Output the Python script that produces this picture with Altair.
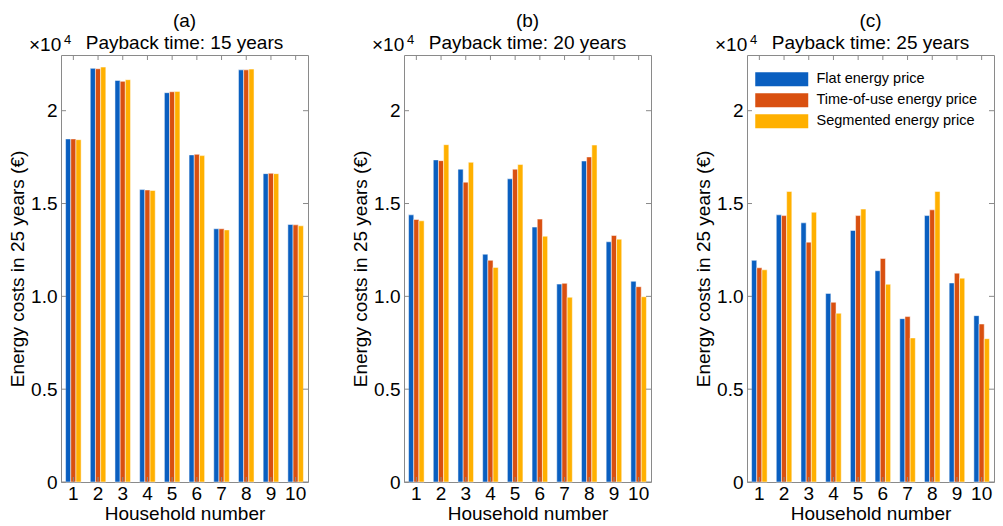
import altair as alt
import pandas as pd

households = list(range(1, 11))
series = ["Flat energy price", "Time-of-use energy price", "Segmented energy price"]
colors = ["#0a5fc0", "#d95010", "#ffb000"]

# Energy costs in 25 years (EUR)
a_flat = [18480, 22280, 21630, 15750, 20970, 17620, 13640, 22200, 16610, 13870]
a_tou = [18480, 22260, 21580, 15730, 21020, 17650, 13640, 22200, 16630, 13850]
a_seg = [18440, 22350, 21670, 15700, 21040, 17580, 13580, 22240, 16610, 13800]

b_flat = [14390, 17350, 16850, 12270, 16330, 13730, 10660, 17290, 12940, 10810]
b_tou = [14140, 17310, 16150, 11940, 16850, 14160, 10700, 17510, 13280, 10520]
b_seg = [14070, 18170, 17220, 11560, 17100, 13240, 9950, 18150, 13080, 9980]

c_flat = [11940, 14390, 13960, 10160, 13550, 11380, 8800, 14350, 10720, 8960]
c_tou = [11540, 14350, 12920, 9680, 14350, 12040, 8910, 14660, 11250, 8510]
c_seg = [11430, 15650, 14530, 9090, 14700, 10650, 7760, 15650, 10980, 7720]

ytick_vals = [0, 5000, 10000, 15000, 20000]
panels_info = [
    ("a", 15, [a_flat, a_tou, a_seg]),
    ("b", 20, [b_flat, b_tou, b_seg]),
    ("c", 25, [c_flat, c_tou, c_seg]),
]

W, H = 247, 427
FONT = "Liberation Sans"
FS = 19
FRAME = "#8a8a8a"


def make_df(vals):
    rows = []
    for s, v in zip(series, vals):
        for h, c in zip(households, v):
            rows.append({"House": h, "Series": s, "Cost": c})
    return pd.DataFrame(rows)


hdf = pd.DataFrame({"House": households})
ydf = pd.DataFrame({"Cost": ytick_vals})
one = pd.DataFrame({"k": [0]})


def panel(letter, years, vals, show_legend):
    df = make_df(vals)
    xenc = alt.X(
        "House:O",
        scale=alt.Scale(paddingInner=0.37, paddingOuter=0.185),
        axis=alt.Axis(
            title="Household number", labelAngle=0, ticks=False, domain=False,
            labelFontSize=FS, titleFontSize=FS, labelPadding=2, titlePadding=1,
            labelColor="black", titleColor="black", titleFontWeight="normal",
            labelFont=FONT, titleFont=FONT,
        ),
    )
    yenc = alt.Y(
        "Cost:Q",
        scale=alt.Scale(domain=[0, 23000], nice=False, zero=True),
        axis=alt.Axis(
            title="Energy costs in 25 years (€)", values=ytick_vals,
            labelExpr="datum.value == 0 ? '0' : datum.value == 20000 ? '2' : format(datum.value / 10000, '.1f')",
            ticks=False, domain=False, grid=False,
            labelFontSize=FS, titleFontSize=FS, labelPadding=4, titlePadding=3,
            labelColor="black", titleColor="black", titleFontWeight="normal",
            labelFont=FONT, titleFont=FONT,
        ),
    )
    if show_legend:
        legend = alt.Legend(
            title=None, orient="none", legendX=8, legendY=17, padding=0,
            symbolType="M-1,-1H6.57V1H-1Z", symbolSize=196, symbolStrokeWidth=0,
            symbolOpacity=1, labelOffset=47, labelFontSize=14.5, labelFont=FONT,
            labelColor="black", rowPadding=5, labelLimit=300,
        )
    else:
        legend = None
    bars = alt.Chart(df).mark_bar(stroke="white", strokeWidth=0.5).encode(
        x=xenc,
        xOffset=alt.XOffset("Series:N", sort=series,
                            scale=alt.Scale(paddingInner=0, paddingOuter=0)),
        y=yenc,
        color=alt.Color("Series:N", sort=series,
                        scale=alt.Scale(domain=series, range=colors),
                        legend=legend),
    )
    xt_top = alt.Chart(hdf).mark_rule(color=FRAME, strokeWidth=1).encode(
        x="House:O", y=alt.value(0), y2=alt.value(5))
    xt_bot = alt.Chart(hdf).mark_rule(color=FRAME, strokeWidth=1).encode(
        x="House:O", y=alt.value(H - 5), y2=alt.value(H))
    yt_left = alt.Chart(ydf).mark_rule(color=FRAME, strokeWidth=1).encode(
        y="Cost:Q", x=alt.value(0), x2=alt.value(5))
    yt_right = alt.Chart(ydf).mark_rule(color=FRAME, strokeWidth=1).encode(
        y="Cost:Q", x=alt.value(W - 5), x2=alt.value(W))
    exp10 = alt.Chart(one).mark_text(
        text="×10", fontSize=FS, font=FONT, align="left", baseline="alphabetic",
        color="black").encode(x=alt.value(-32), y=alt.value(-4))
    exp4 = alt.Chart(one).mark_text(
        text="4", fontSize=13, font=FONT, align="left", baseline="alphabetic",
        color="black").encode(x=alt.value(3), y=alt.value(-11))
    return alt.layer(bars, xt_top, xt_bot, yt_left, yt_right, exp10, exp4).properties(
        width=W, height=H,
        title=alt.Title(
            [f"({letter})", f"Payback time: {years} years"],
            fontSize=FS, fontWeight="normal", font=FONT, lineHeight=22,
            frame="group", offset=-18.5, color="black",
        ),
    )


charts = [panel(l, y, v, i == 2) for i, (l, y, v) in enumerate(panels_info)]

chart = (
    alt.hconcat(*charts, spacing=42)
    .resolve_scale(color="independent")
    .configure_view(stroke=FRAME, strokeWidth=1)
    .properties(padding={"left": 0, "top": 3, "right": 0, "bottom": 0})
)

chart.save("out.html", embed_options={"renderer": "svg", "actions": False})
